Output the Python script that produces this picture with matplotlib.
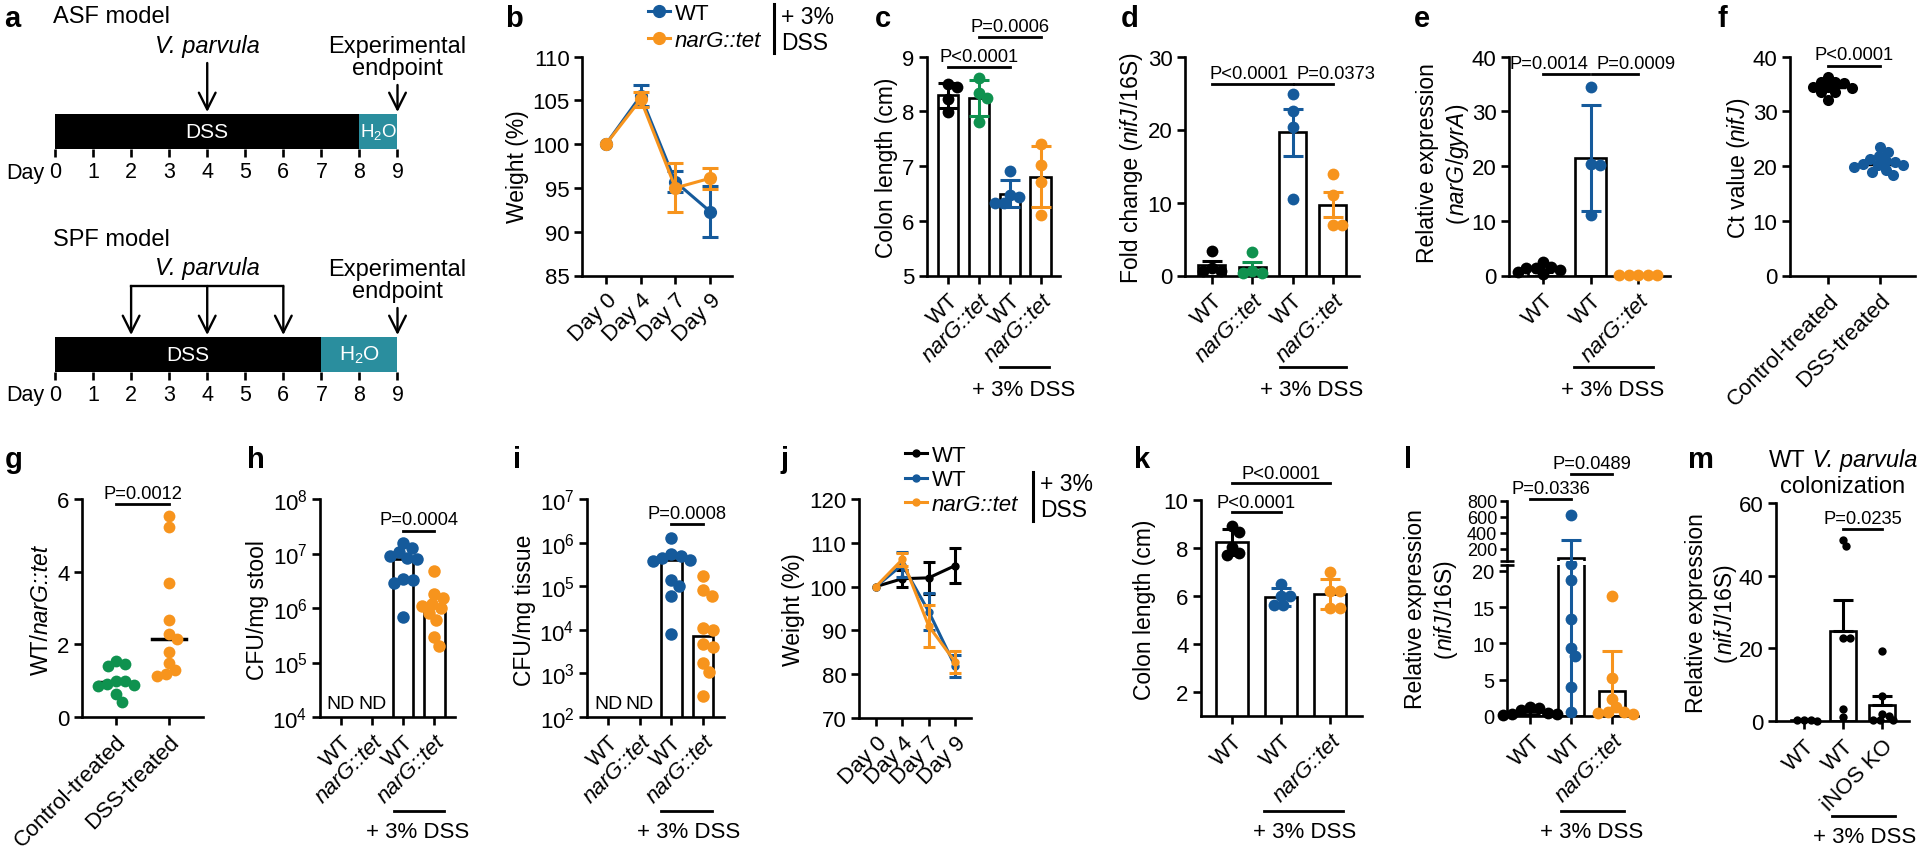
import numpy as np
import matplotlib
matplotlib.use("Agg")
import matplotlib.pyplot as plt
from matplotlib.lines import Line2D
from matplotlib.transforms import blended_transform_factory, offset_copy

W, H = 1920, 853
plt.rcParams["font.family"] = ["Liberation Sans", "DejaVu Sans"]
plt.rcParams["mathtext.fontset"] = "custom"
plt.rcParams["mathtext.rm"] = "Liberation Sans"
plt.rcParams["mathtext.it"] = "Liberation Sans:italic"

BLUE = "#155a9b"
ORANGE = "#f7941d"
GREEN = "#0f924f"
TEAL = "#2a8e9e"
TFS = 16      # tick labels
LFS = 16.5    # axis labels
PFS = 13.2    # P values

# ---------------- data ----------------
# a: treatment timelines
timeline_days = list(range(10))
asf_names = ["DSS", "H$_2$O"]
asf_start = [0, 8]
asf_end = [8, 9]
asf_vp_days = [4]
spf_names = ["DSS", "H$_2$O"]
spf_start = [0, 7]
spf_end = [7, 9]
spf_vp_days = [2, 4, 6]
endpoint_day = 9

# b: weight, ASF model
b_days = ["Day 0", "Day 4", "Day 7", "Day 9"]
b_wt = [100, 105.5, 95.7, 92.3]
b_wt_err = [0, 1.2, 1.2, 2.9]
b_nar = [100, 105.1, 95.0, 96.1]
b_nar_err = [0, 0.9, 2.8, 1.2]

# c: colon length
c_groups = ["WT", "narG::tet", "WT", "narG::tet"]
c_wt = [8.50, 8.44, 8.23, 7.99]
c_nar = [8.60, 8.33, 8.24, 7.81]
c_wt_dss = [6.91, 6.47, 6.44, 6.33, 6.33]
c_nar_dss = [7.40, 7.02, 6.71, 6.10]

# d: nifJ fold change
d_wt = [3.3, 1.0, 0.6, 0.6]
d_nar = [3.2, 0.6, 0.4, 0.4]
d_wt_dss = [24.9, 22.6, 20.4, 10.5]
d_nar_dss = [13.9, 11.0, 6.9, 6.9]

# e: narG/gyrA
e_groups = ["WT", "WT", "narG::tet"]
e_wt = [2.5, 1.6, 1.4, 1.3, 1.0, 0.7, 0.3]
e_wt_dss = [34.5, 20.4, 20.2, 11.0]
e_nar_dss = [0.1, 0.1, 0.1, 0.1, 0.1]

# f: Ct values
f_groups = ["Control-treated", "DSS-treated"]
f_ctrl = [36.3, 35.4, 35.4, 35.1, 34.5, 34.5, 34.2, 33.6, 33.6, 32.0]
f_dss = [23.4, 22.5, 21.8, 21.3, 20.9, 20.7, 20.4, 20.1, 20.1, 19.8, 19.2, 18.9, 18.3]

# g: competitive index
g_ctrl = [1.55, 1.45, 1.40, 1.0, 0.98, 0.92, 0.88, 0.86, 0.62, 0.42]
g_dss = [5.52, 5.24, 3.69, 2.66, 2.29, 2.15, 1.79, 1.49, 1.28, 1.17, 1.12]

# h, i: CFU counts (WT and narG::tet without DSS not detected)
h_wt_dss = [1.55e7, 1.26e7, 1.05e7, 9.1e6, 8.1e6, 7.9e6, 3.4e6, 3.2e6, 2.9e6, 6.8e5]
h_nar_dss = [4.7e6, 1.8e6, 1.5e6, 1.2e6, 1.1e6, 1.0e6, 8e5, 6e5, 2.9e5, 2.0e5]
i_wt_dss = [1.3e6, 5.5e5, 5e5, 4.5e5, 4e5, 3.8e5, 1.4e5, 1e5, 6e4, 8e3]
i_nar_dss = [1.7e5, 8e4, 6e4, 1.1e4, 1e4, 4.8e3, 4e3, 1.7e3, 1.1e3, 3e2]

# j: weight, SPF model
j_ctrl = [100, 101.8, 102.0, 104.8]
j_ctrl_err = [0, 2.0, 3.7, 3.9]
j_wt = [100, 105.0, 94.3, 81.8]
j_wt_err = [0, 2.8, 4.3, 2.5]
j_nar = [100, 106.2, 91.0, 82.8]
j_nar_err = [0, 1.5, 4.8, 2.5]

# k: colon length, SPF
k_groups = ["WT", "WT", "narG::tet"]
k_ctrl = [8.92, 8.68, 8.05, 7.72, 7.78]
k_wt_dss = [6.51, 6.0, 6.0, 5.62, 5.62]
k_nar_dss = [7.02, 6.19, 6.19, 5.50, 5.50]

# l: nifJ/16S, SPF
l_ctrl = [1.2, 1.1, 0.8, 0.45, 0.3, 0.3, 0.1]
l_wt_dss = [630, 21.0, 18.8, 13.3, 9.4, 8.2, 4.0, 0.5]
l_nar_dss = [16.5, 5.3, 2.4, 1.2, 0.5, 0.5, 0.4, 0.3]

# m: iNOS KO
m_groups = ["WT", "WT", "iNOS KO"]
m_ctrl = [0.3, 0.2, 0.2, 0.1]
m_wt_dss = [48.2, 49.8, 22.8, 22.8, 3.4, 1.0]
m_ko_dss = [19.2, 7.0, 2.0, 1.5, 0.3, 0.2, 0.2]

# ---------------- helpers ----------------
fig = plt.figure(figsize=(W / 100, H / 100), dpi=100)


def fy(py):
    return 1 - py / H


def px_axes(l, t, r, b):
    return fig.add_axes([l / W, 1 - b / H, (r - l) / W, (b - t) / H])


def bt(ax):
    return blended_transform_factory(ax.transData, fig.transFigure)


def style(ax):
    for s in ["top", "right"]:
        ax.spines[s].set_visible(False)
    for s in ["left", "bottom"]:
        ax.spines[s].set_linewidth(1.9)
    ax.tick_params(width=1.9, length=6, labelsize=TFS, pad=3)
    ax.tick_params(axis="x", pad=4)


def cat_labels(ax, labels, size=TFS):
    ax.set_xticks(np.arange(len(labels)))
    ax.set_xticklabels(labels, rotation=45, ha="right", va="top",
                       rotation_mode="anchor", fontsize=size)
    for t in ax.get_xticklabels():
        if "::" in t.get_text():
            t.set_fontstyle("italic")


def swarm_x(ax, xc, vals, diam):
    vals = np.asarray(vals, float)
    pts = ax.transData.transform(np.column_stack([np.full(len(vals), float(xc)), vals]))
    x0 = pts[0, 0]
    ys = pts[:, 1]
    placed = []
    offs = np.zeros(len(vals))
    for i in np.argsort(-ys):
        y = ys[i]
        cands = [0.0]
        for ox, oy in placed:
            dy = abs(y - oy)
            if dy < diam:
                dx = np.sqrt(diam ** 2 - dy ** 2)
                cands += [ox + dx, ox - dx]
        cands.sort(key=lambda c: (round(abs(c), 6), -c))
        for c in cands:
            if all((c - ox) ** 2 + (y - oy) ** 2 >= diam ** 2 - 1e-6 for ox, oy in placed):
                offs[i] = c
                break
        placed.append((offs[i], y))
    back = ax.transData.inverted().transform(np.column_stack([x0 + offs, ys]))
    return back[:, 0]


def dots(ax, xc, vals, color, ms=8.5, overlap=0.8):
    xs = swarm_x(ax, xc, vals, ms * 100 / 72 * overlap)
    ax.plot(xs, vals, "o", ms=ms, color=color, mew=0, zorder=3, clip_on=False)


def bar_group(ax, groups, colors, err="sd", width=0.67, ms=8.5, upper_only=False, ecolors=None):
    x = np.arange(len(groups))
    means = [np.mean(v) for v in groups]
    ax.bar(x, means, width=width, color="white", edgecolor="k", lw=1.9, zorder=1)
    for i, v in enumerate(groups):
        dots(ax, i, v, colors[i], ms)
        e = np.std(v, ddof=1)
        if err == "sem":
            e /= np.sqrt(len(v))
        lo = 0 if upper_only else e
        ax.errorbar(i, means[i], yerr=[[lo], [e]], fmt="none",
                    ecolor=(ecolors or colors)[i], elinewidth=2.2, capsize=7,
                    capthick=2.2, zorder=4)
    return means


def pval(ax, x1, x2, y_line, y_text, label, tx=None):
    tr = bt(ax)
    ax.plot([x1, x2], [fy(y_line)] * 2, color="k", lw=2, transform=tr, clip_on=False)
    ax.text((x1 + x2) / 2 if tx is None else tx, fy(y_text + 0.36 * PFS * 100 / 72),
            label, transform=tr, ha="center", va="baseline", fontsize=PFS)


def dss(ax, x1, x2, y_line, y_text, tx):
    tr = bt(ax)
    ax.plot([x1, x2], [fy(y_line)] * 2, color="k", lw=2, transform=tr, clip_on=False)
    ax.text(tx, fy(y_text + 0.36 * TFS * 100 / 72), "+ 3% DSS", transform=tr,
            ha="center", va="baseline", fontsize=TFS)


def rich(x, y, parts, rot=90, size=LFS):
    r = fig.canvas.get_renderer()
    texts, widths = [], []
    for s, st in parts:
        t = fig.text(0, 0, s, fontsize=size, fontstyle=st)
        texts.append(t)
        widths.append(t.get_window_extent(r).width)
    total = sum(widths)
    sh = 0.3 * size * 100 / 72
    off = 0.0
    for t, w in zip(texts, widths):
        if rot == 0:
            px, py = x - total / 2 + off, y + sh
        else:
            px, py = x + sh, y + total / 2 - off
        t.set_position((px / W, fy(py)))
        t.set_rotation(rot)
        t.set_rotation_mode("anchor")
        t.set_ha("left")
        t.set_va("baseline")
        off += w


def panel(x, y, s):
    fig.text(x / W, fy(y), s, fontsize=21, fontweight="bold", ha="left", va="baseline")


def divider(x, y0, y1, y_a, y_b):
    fig.add_artist(Line2D([x / W, x / W], [fy(y0), fy(y1)], color="k", lw=2.2,
                          transform=fig.transFigure))
    fig.text((x + 7) / W, fy(y_a), "+ 3%", fontsize=LFS, va="center", ha="left")
    fig.text((x + 7) / W, fy(y_b), "DSS", fontsize=LFS, va="center", ha="left")


def down_arrow(ax, x, y0, y1):
    ax.annotate("", xy=(x, fy(y1)), xytext=(x, fy(y0)), xycoords=bt(ax), textcoords=bt(ax),
                arrowprops=dict(arrowstyle="->,head_length=0.6,head_width=0.3", lw=1.7,
                                color="k", shrinkA=0, shrinkB=0, mutation_scale=20))


# ---------------- a ----------------
def model(top, bottom, starts, ends, names):
    ax = px_axes(55, top, 397.5, bottom)
    ax.set_xlim(0, 9)
    ax.set_ylim(0, 1)
    for s in ax.spines.values():
        s.set_visible(False)
    ax.barh(0.5, np.subtract(ends, starts), left=starts, height=1,
            color=["black", TEAL], zorder=1)
    for s0, s1, nm in zip(starts, ends, names):
        ax.text((s0 + s1) / 2, 0.5, nm, color="white", ha="center", va="center",
                fontsize=15 if s1 - s0 > 1 else 13.5)
    ax.set_yticks([])
    ax.set_xticks(timeline_days)
    ax.tick_params(axis="x", length=6, width=1.9, labelsize=15.5, pad=3)
    tr = offset_copy(blended_transform_factory(ax.transData, ax.transAxes), fig=fig,
                     y=-9, units="points")
    ax.text(-0.28, 0, "Day", transform=tr, ha="right", va="top", fontsize=15.5)
    return ax


ax = model(115, 150, asf_start, asf_end, asf_names)
fig.text(53 / W, fy(17), "ASF model", fontsize=17, va="center")
for d in asf_vp_days:
    down_arrow(ax, d, 64, 113)
ax.text(np.mean(asf_vp_days), fy(46), "V. parvula", transform=bt(ax), ha="center",
        va="center", fontsize=17, fontstyle="italic")
ax.text(endpoint_day, fy(58), "Experimental\nendpoint", transform=bt(ax), ha="center",
        va="center", fontsize=17, linespacing=0.95)
down_arrow(ax, endpoint_day, 86, 113)

ax = model(338, 373, spf_start, spf_end, spf_names)
fig.text(53 / W, fy(240), "SPF model", fontsize=17, va="center")
ax.plot([min(spf_vp_days), max(spf_vp_days)], [fy(287)] * 2, color="k", lw=1.7,
        transform=bt(ax), clip_on=False)
for d in spf_vp_days:
    down_arrow(ax, d, 287, 336)
ax.text(np.mean(spf_vp_days), fy(269), "V. parvula", transform=bt(ax), ha="center",
        va="center", fontsize=17, fontstyle="italic")
ax.text(endpoint_day, fy(281), "Experimental\nendpoint", transform=bt(ax), ha="center",
        va="center", fontsize=17, linespacing=0.95)
down_arrow(ax, endpoint_day, 309, 336)

# ---------------- b ----------------
ax = px_axes(582, 57.5, 732, 276.5)
style(ax)
ax.set_xlim(-0.69, 3.63)
ax.set_ylim(85, 110)
ax.set_yticks(range(85, 111, 5))
cat_labels(ax, b_days)
x = np.arange(len(b_days))
h1, = ax.plot(x, b_wt, "-o", color=BLUE, lw=2.2, ms=8.5, zorder=3, clip_on=False)
h2, = ax.plot(x, b_nar, "-o", color=ORANGE, lw=2.2, ms=8.5, zorder=4, clip_on=False)
ax.errorbar(x[1:], b_wt[1:], yerr=b_wt_err[1:], fmt="none", ecolor=BLUE, elinewidth=2.2,
            capsize=6, capthick=2.2, zorder=3)
ax.errorbar(x[1:], b_nar[1:], yerr=b_nar_err[1:], fmt="none", ecolor=ORANGE, elinewidth=2.2,
            capsize=6, capthick=2.2, zorder=4)
leg = ax.legend([h1, h2], ["WT", "narG::tet"], loc="upper left",
                bbox_to_anchor=(648 / W, fy(4)), bbox_transform=fig.transFigure,
                frameon=False, handlelength=1.0, handletextpad=0.2, labelspacing=0.25,
                borderpad=0, borderaxespad=0, fontsize=16, numpoints=1)
leg.get_texts()[1].set_fontstyle("italic")
divider(774, 5, 54, 17, 44)
rich(517, 167, [("Weight (%)", "normal")])

# ---------------- c ----------------
ax = px_axes(927, 57.5, 1060, 276.5)
style(ax)
ax.set_xlim(-0.68, 3.62)
ax.set_ylim(5, 9)
ax.set_yticks([5, 6, 7, 8, 9])
cat_labels(ax, c_groups)
bar_group(ax, [c_wt, c_nar, c_wt_dss, c_nar_dss], ["k", GREEN, BLUE, ORANGE])
pval(ax, 0, 2, 68, 55, "P<0.0001")
pval(ax, 1, 3, 38, 25, "P=0.0006")
dss(ax, 1.69, 3.28, 368, 388, 2.44)
rich(886, 168, [("Colon length (cm)", "normal")])

# ---------------- d ----------------
ax = px_axes(1185, 57.5, 1359, 276.5)
style(ax)
ax.set_xlim(-0.67, 3.65)
ax.set_ylim(0, 30)
ax.set_yticks([0, 10, 20, 30])
cat_labels(ax, c_groups)
bar_group(ax, [d_wt, d_nar, d_wt_dss, d_nar_dss], ["k", GREEN, BLUE, ORANGE], err="sem")
pval(ax, 0, 2, 85, 72, "P<0.0001", tx=0.92)
pval(ax, 2.04, 3, 85, 72, "P=0.0373", tx=3.07)
dss(ax, 1.69, 3.33, 368, 388, 2.48)
rich(1131, 168, [("Fold change (", "normal"), ("nifJ", "italic"), ("/16S)", "normal")])

# ---------------- e ----------------
ax = px_axes(1509, 57.5, 1670, 276.5)
style(ax)
ax.set_xlim(-0.72, 2.67)
ax.set_ylim(0, 40)
ax.set_yticks([0, 10, 20, 30, 40])
cat_labels(ax, e_groups)
bar_group(ax, [e_wt, e_wt_dss, e_nar_dss], ["k", BLUE, ORANGE], width=0.65)
pval(ax, 0, 0.97, 75, 62, "P=0.0014", tx=0.13)
pval(ax, 1.03, 2, 75, 62, "P=0.0009", tx=1.96)
dss(ax, 0.65, 2.32, 368, 388, 1.47)
rich(1427, 163, [("Relative expression", "normal")])
rich(1457, 163, [("(", "normal"), ("narG", "italic"), ("/", "normal"),
                 ("gyrA", "italic"), (")", "normal")])

# ---------------- f ----------------
ax = px_axes(1790, 57.5, 1915, 276.5)
style(ax)
ax.set_xlim(-0.73, 1.67)
ax.set_ylim(0, 40)
ax.set_yticks([0, 10, 20, 30, 40])
cat_labels(ax, f_groups)
for i, (v, c) in enumerate(zip([f_ctrl, f_dss], ["k", BLUE])):
    ax.plot([i - 0.3, i + 0.3], [np.median(v)] * 2, color="k", lw=2.5, zorder=2)
    dots(ax, i, v, c, ms=8)
pval(ax, 0, 1, 67, 53, "P<0.0001")
rich(1738, 168, [("Ct value (", "normal"), ("nifJ", "italic"), (")", "normal")])

# ---------------- g ----------------
ax = px_axes(82, 500, 203, 718)
style(ax)
ax.set_xlim(-0.64, 1.64)
ax.set_ylim(0, 6)
ax.set_yticks([0, 2, 4, 6])
cat_labels(ax, f_groups)
for i, (v, c) in enumerate(zip([g_ctrl, g_dss], [GREEN, ORANGE])):
    ax.plot([i - 0.32, i + 0.32], [np.median(v)] * 2, color="k", lw=2.5, zorder=2)
    dots(ax, i, v, c, ms=8.5)
pval(ax, 0, 1, 505, 492, "P=0.0012")
rich(41, 610, [("WT/", "normal"), ("narG::tet", "italic")])


# ---------------- h, i ----------------
def cfu(ax, wt, nar, ylo, yhi):
    style(ax)
    ax.set_yscale("log")
    ax.set_ylim(ylo, yhi)
    ax.set_xlim(-0.67, 3.66)
    exps = range(int(np.log10(ylo)), int(np.log10(yhi)) + 1)
    ax.set_yticks([10.0 ** e for e in exps])
    ax.set_yticklabels(["10$^{%d}$" % e for e in exps])
    ax.minorticks_off()
    cat_labels(ax, c_groups)
    ax.bar([2, 3], [np.median(wt), np.median(nar)], width=0.65, color="white",
           edgecolor="k", lw=1.9, zorder=1)
    dots(ax, 2, wt, BLUE, ms=9)
    dots(ax, 3, nar, ORANGE, ms=9)
    tr = bt(ax)
    for xi in [0, 1]:
        ax.text(xi, fy(703 + 6.5), "ND", transform=tr, ha="center", va="baseline", fontsize=14)


ax = px_axes(320, 500, 455, 718)
cfu(ax, h_wt_dss, h_nar_dss, 1e4, 1e8)
pval(ax, 2, 3, 532, 518, "P=0.0004")
dss(ax, 1.69, 3.32, 812, 830, 2.46)
rich(257, 610, [("CFU/mg stool", "normal")])

ax = px_axes(587, 500, 724, 718)
cfu(ax, i_wt_dss, i_nar_dss, 1e2, 1e7)
pval(ax, 2, 3, 525, 512, "P=0.0008")
dss(ax, 1.66, 3.29, 812, 830, 2.55)
rich(524, 610, [("CFU/mg tissue", "normal")])

# ---------------- j ----------------
ax = px_axes(859, 500, 971, 719)
style(ax)
ax.set_xlim(-0.64, 3.6)
ax.set_ylim(70, 120)
ax.set_yticks(range(70, 121, 10))
cat_labels(ax, b_days)
x = np.arange(len(b_days))
hs = []
for k, (m, e, c) in enumerate(zip([j_ctrl, j_wt, j_nar], [j_ctrl_err, j_wt_err, j_nar_err],
                                  ["k", BLUE, ORANGE])):
    hh, = ax.plot(x, m, "-o", color=c, lw=2.2, ms=5, zorder=3 + k, clip_on=False)
    ax.errorbar(x[1:], m[1:], yerr=e[1:], fmt="none", ecolor=c, elinewidth=2.2,
                capsize=4, capthick=2.2, zorder=3 + k)
    hs.append(hh)
leg = ax.legend(hs, ["WT", "WT", "narG::tet"], loc="upper left",
                bbox_to_anchor=(905 / W, fy(446)), bbox_transform=fig.transFigure,
                frameon=False, handlelength=1.0, handletextpad=0.2, labelspacing=0.15,
                borderpad=0, borderaxespad=0, fontsize=16, numpoints=1)
leg.get_texts()[2].set_fontstyle("italic")
divider(1033, 473, 522, 485, 511)
rich(793, 610, [("Weight (%)", "normal")])

# ---------------- k ----------------
ax = px_axes(1201, 501, 1362, 717)
style(ax)
ax.set_xlim(-0.63, 2.65)
ax.set_ylim(1, 10)
ax.set_yticks([2, 4, 6, 8, 10])
cat_labels(ax, k_groups)
bar_group(ax, [k_ctrl, k_wt_dss, k_nar_dss], ["k", BLUE, ORANGE], width=0.66)
pval(ax, 0, 1, 513, 501, "P<0.0001")
pval(ax, 0, 2, 484, 472, "P<0.0001")
dss(ax, 0.65, 2.27, 812, 830, 1.49)
rich(1144, 610, [("Colon length (cm)", "normal")])

# ---------------- l (broken axis) ----------------
axl = px_axes(1507, 566, 1638, 717)
axu = px_axes(1507, 502, 1638, 562)
for a in (axl, axu):
    style(a)
    a.set_xlim(-0.56, 2.63)
axl.set_ylim(0, 20.8)
axl.set_yticks([0, 5, 10, 15, 20])
axl.tick_params(axis="y", labelsize=14.5)
axu.set_ylim(50, 800)
axu.set_yticks([200, 400, 600, 800])
axu.tick_params(axis="y", labelsize=13, length=5, pad=2)
axu.spines["bottom"].set_visible(False)
axu.set_xticks([])
cat_labels(axl, k_groups)
l_sets = [l_ctrl, l_wt_dss, l_nar_dss]
l_cols = ["k", BLUE, ORANGE]
l_means = [np.mean(v) for v in l_sets]
l_sds = [np.std(v, ddof=1) for v in l_sets]
for a in (axl, axu):
    a.bar(range(3), l_means, width=0.63, color="white", edgecolor="k", lw=1.9, zorder=1)
    for i in range(3):
        a.errorbar(i, l_means[i], yerr=l_sds[i], fmt="none", ecolor=l_cols[i],
                   elinewidth=2.2, capsize=7, capthick=2.2, zorder=4)
for i, v in enumerate(l_sets):
    lo = [p for p in v if p < 25]
    hi = [p for p in v if p >= 25]
    dots(axl, i, lo, l_cols[i], ms=8.5)
    if hi:
        dots(axu, i, hi, l_cols[i], ms=8.5)
axu.plot([0], [0], marker="_", ms=10, mew=1.9, color="k", transform=axu.transAxes, clip_on=False)
axl.plot([0], [1], marker="_", ms=10, mew=1.9, color="k", transform=axl.transAxes, clip_on=False)
pval(axl, 0, 1, 500, 487, "P=0.0336")
pval(axl, 1, 2, 475, 462, "P=0.0489")
dss(axl, 0.76, 2.29, 812, 830, 1.51)
rich(1415, 609, [("Relative expression", "normal")])
rich(1445, 609, [("(", "normal"), ("nifJ", "italic"), ("/16S)", "normal")])

# ---------------- m ----------------
ax = px_axes(1776, 504, 1909, 722)
style(ax)
ax.set_xlim(-0.72, 2.69)
ax.set_ylim(0, 60)
ax.set_yticks([0, 20, 40, 60])
cat_labels(ax, m_groups)
bar_group(ax, [m_ctrl, m_wt_dss, m_ko_dss], ["k", "k", "k"], err="sem", width=0.65,
          ms=6, upper_only=True)
pval(ax, 1, 2, 530, 517, "P=0.0235")
dss(ax, 0.72, 2.33, 817, 835, 1.54)
rich(1843, 460, [("WT", "normal"), (" V. parvula", "italic")], rot=0, size=17)
fig.text(1843 / W, fy(487), "colonization", fontsize=17, ha="center", va="center")
rich(1696, 613, [("Relative expression", "normal")])
rich(1725, 613, [("(", "normal"), ("nifJ", "italic"), ("/16S)", "normal")])

# ---------------- panel letters ----------------
for s, xx in zip("abcdef", [4, 505, 875, 1121, 1414, 1717]):
    panel(xx, 27, s)
for s, xx in zip("ghijklm", [5, 247, 513, 781, 1134, 1404, 1688]):
    panel(xx, 468, s)

fig.savefig("out.png", dpi=100)
